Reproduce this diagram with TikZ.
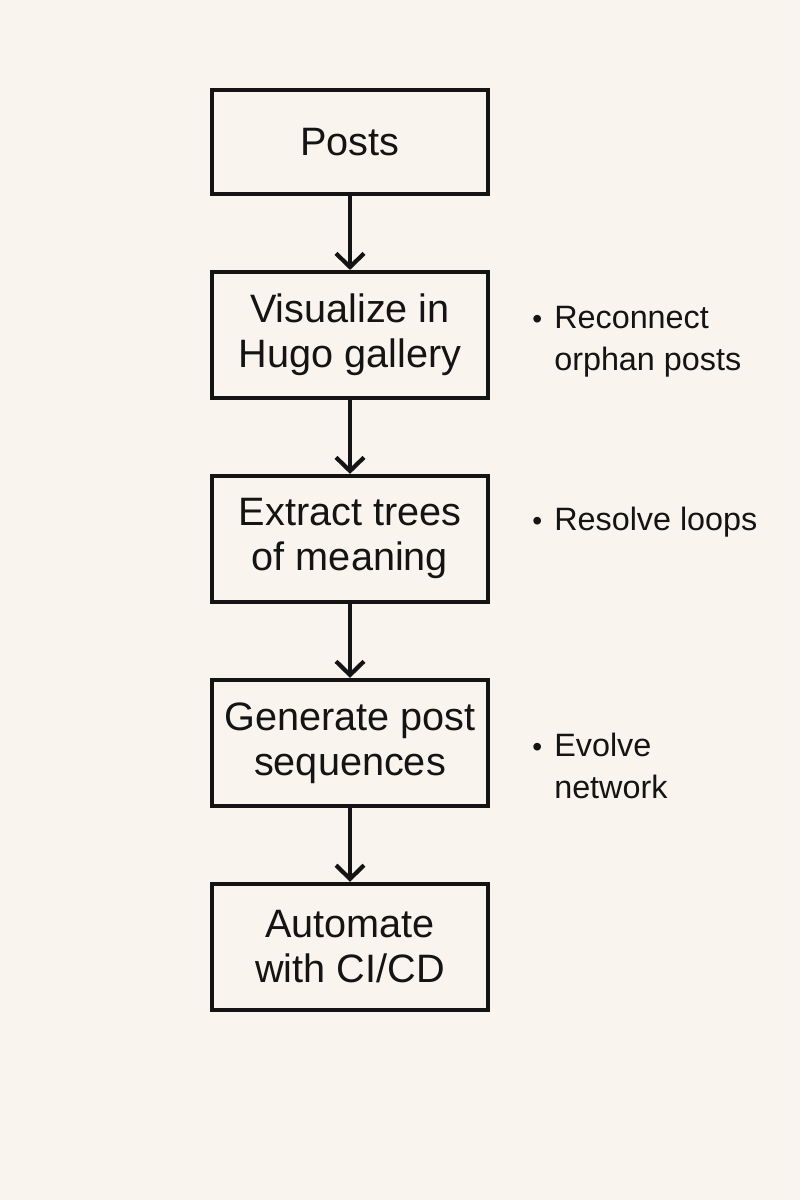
\documentclass[tikz,border=0pt]{standalone}
\usepackage{fontspec}
\setmainfont{Liberation Sans}
\usetikzlibrary{positioning,arrows.meta,calc}
\definecolor{paper}{HTML}{FAF4EE}
\definecolor{ink}{HTML}{141414}
\tikzset{
	stepbox/.style={
			draw=ink, line width=2.8pt, minimum width=6.9cm, minimum height=3.15cm,
			align=center, font=\fontsize{28.2}{32}\selectfont, text=ink
		},
	flow/.style={draw=ink, line width=2.8pt, -{Straight Barb[length=0.34cm,width=0.7cm,line width=3pt]}},
	note/.style={anchor=west, inner sep=0pt, align=left, font=\fontsize{23}{29.8}\selectfont, text=ink}
}
\newcommand{\bul}{\makebox[0.55cm][l]{\fontsize{20}{20}\selectfont\textbullet}}
\newcommand{\nobul}{\hspace*{0.55cm}}

\begin{document}
\begin{tikzpicture}[node distance=1.85cm]
		\fill[paper] (0,0) rectangle (20,-30);
		\useasboundingbox (0,0) rectangle (20,-30);
		
		\node[stepbox, minimum height=2.6cm] (posts) at (8.75,-3.55) {Posts};
		\node[stepbox, below=of posts] (visualize) {Visualize in\\Hugo gallery};
		\node[stepbox, below=of visualize] (extract) {Extract trees\\of meaning};
		\node[stepbox, below=of extract] (generate) {Generate post\\sequences};
		\node[stepbox, below=of generate] (automate) {Automate\\with CI/CD};
		
		\draw[flow] (posts) -- (visualize);
		\draw[flow] (visualize) -- (extract);
		\draw[flow] (extract) -- (generate);
		\draw[flow] (generate) -- (automate);
		
		% side notes
		\node[note] (reconnect) at (13.3,-8.55) {\bul Reconnect\\\nobul orphan posts};
		\node[note] (resolve) at (13.3,-13.05) {\bul Resolve loops};
		\node[note] (evolve) at (13.3,-19.15) {\bul Evolve\\\nobul network};
	\end{tikzpicture}
\end{document}
